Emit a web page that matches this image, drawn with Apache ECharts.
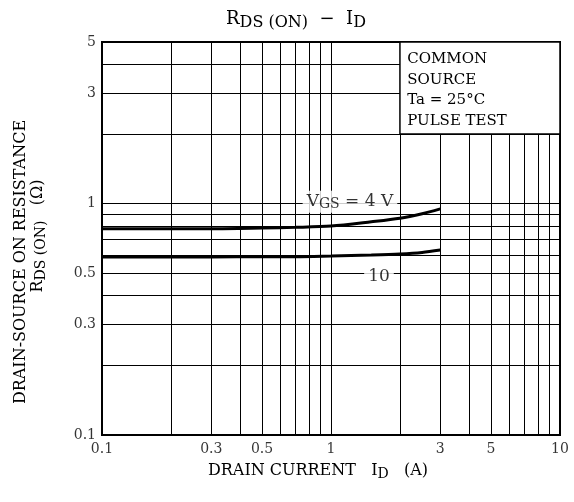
<!DOCTYPE html>
<html>
<head>
<meta charset="utf-8">
<script src="https://cdn.jsdelivr.net/npm/echarts@6/dist/echarts.min.js"></script>
<style>
html,body{margin:0;padding:0;background:#fff;}
#chart{width:574px;height:502px;}
</style>
</head>
<body>
<div id="chart"></div>
<script>
// ---- data ----
const xRange = [0.1, 10];
const yRange = [0.1, 5];
const xTickLabels = [0.1, 0.3, 0.5, 1, 3, 5, 10];
const yTickLabels = [0.1, 0.3, 0.5, 1, 3, 5];
const xGridValues = [0.2, 0.3, 0.4, 0.5, 0.6, 0.7, 0.8, 0.9, 1, 2, 3, 4, 5, 6, 7, 8, 9];
const yGridValues = [0.2, 0.3, 0.4, 0.5, 0.6, 0.7, 0.8, 0.9, 1, 2, 3, 4];
const currentA = [0.1, 0.2, 0.3, 0.5, 0.7, 1, 1.5, 2, 2.5, 3];
const rdsVgs4 = [0.78, 0.78, 0.78, 0.785, 0.79, 0.80, 0.835, 0.865, 0.905, 0.95];
const rdsVgs10 = [0.588, 0.588, 0.588, 0.59, 0.59, 0.594, 0.60, 0.606, 0.615, 0.63];
const labelVgs4Pos = [1.21, 1.02];
const labelVgs10Pos = [1.62, 0.483];
const boxCorners = [[2, 2], [10, 5]];
const boxLines = ['COMMON', 'SOURCE', 'Ta = 25°C', 'PULSE TEST'];

const FONT = '"DejaVu Serif", "Liberation Serif", serif';
const chart = echarts.init(document.getElementById('chart'), null, {renderer: 'canvas'});

const zip = (xs, ys) => xs.map((x, i) => [x, ys[i]]);

const option = {
  backgroundColor: '#fff',
  animation: false,
  textStyle: {fontFamily: FONT, color: '#000'},
  grid: {left: 102, right: 14, top: 42, bottom: 67, show: true, borderColor: '#000', borderWidth: 2, backgroundColor: 'transparent'},
  xAxis: {
    type: 'log', logBase: 10, min: xRange[0], max: xRange[1],
    axisLine: {show: false}, axisTick: {show: false}, axisLabel: {show: false}, splitLine: {show: false}
  },
  yAxis: {
    type: 'log', logBase: 10, min: yRange[0], max: yRange[1],
    axisLine: {show: false}, axisTick: {show: false}, axisLabel: {show: false}, splitLine: {show: false}
  },
  graphic: [
    {
      type: 'text', x: 296, y: 19, z: 10,
      style: {
        text: '{a|R}{s|DS (ON)}{a|  −  I}{s|D}',
        align: 'center', verticalAlign: 'middle',
        rich: {
          a: {fontFamily: FONT, fontSize: 18, color: '#000', lineHeight: 22},
          s: {fontFamily: FONT, fontSize: 16, color: '#000', lineHeight: 22, padding: [7, 0, 0, 0]}
        }
      }
    },
    {
      type: 'text', x: 21, y: 262, rotation: Math.PI / 2, z: 10,
      style: {text: 'DRAIN-SOURCE ON RESISTANCE', align: 'center', verticalAlign: 'middle', font: '16px ' + FONT, fill: '#000'}
    },
    {
      type: 'text', x: 38, y: 236, rotation: Math.PI / 2, z: 10,
      style: {
        text: '{a|R}{s|DS (ON)}{a|   (Ω)}',
        align: 'center', verticalAlign: 'middle',
        rich: {
          a: {fontFamily: FONT, fontSize: 16, color: '#000', lineHeight: 20},
          s: {fontFamily: FONT, fontSize: 14, color: '#000', lineHeight: 20, padding: [6, 0, 0, 0]}
        }
      }
    },
    {
      type: 'text', x: 318, y: 471, z: 10,
      style: {
        text: '{a|DRAIN CURRENT   I}{s|D}{a|   (A)}',
        align: 'center', verticalAlign: 'middle',
        rich: {
          a: {fontFamily: FONT, fontSize: 16, color: '#000', lineHeight: 20},
          s: {fontFamily: FONT, fontSize: 14, color: '#000', lineHeight: 20, padding: [6, 0, 0, 0]}
        }
      }
    }
  ],
  series: [
    {
      name: 'grid', type: 'line', data: [], z: 2, silent: true,
      markLine: {
        silent: true, z: 1, symbol: ['none', 'none'], animation: false,
        label: {show: false},
        lineStyle: {color: '#000', width: 1, type: 'solid'},
        data: xGridValues.map(v => ({xAxis: v})).concat(yGridValues.map(v => ({yAxis: v})))
      }
    },
    {
      name: 'box', type: 'line', data: [], z: 3, silent: true,
      markArea: {
        silent: true, z: 3,
        itemStyle: {color: '#fff', opacity: 1, borderColor: '#000', borderWidth: 1.5},
        label: {
          show: true, position: 'insideTopLeft', distance: 8,
          formatter: boxLines.join('\n'),
          fontFamily: FONT, fontSize: 15, lineHeight: 20.5, color: '#000'
        },
        data: [[{xAxis: boxCorners[0][0], yAxis: boxCorners[0][1]}, {xAxis: boxCorners[1][0], yAxis: boxCorners[1][1]}]]
      }
    },
    {
      name: 'VGS = 4 V', type: 'line', data: zip(currentA, rdsVgs4), z: 4,
      symbol: 'none', smooth: 0.3, lineStyle: {color: '#000', width: 3}
    },
    {
      name: 'VGS = 10 V', type: 'line', data: zip(currentA, rdsVgs10), z: 4,
      symbol: 'none', smooth: 0.3, lineStyle: {color: '#000', width: 3}
    },
    {
      name: 'curve labels', type: 'scatter', z: 6, symbolSize: 0, clip: false, silent: true,
      data: [
        {value: labelVgs4Pos, label: {formatter: '{a|V}{s|GS}{a| = 4 V}'}},
        {value: labelVgs10Pos, label: {formatter: '{a|10}'}}
      ],
      label: {
        show: true, position: 'inside', backgroundColor: '#fff', padding: [1, 4, 1, 4],
        rich: {
          a: {fontFamily: FONT, fontSize: 17, color: '#000', lineHeight: 20},
          s: {fontFamily: FONT, fontSize: 14, color: '#000', lineHeight: 20, padding: [6, 0, 0, 0]}
        }
      }
    },
    {
      name: 'x ticks', type: 'scatter', z: 6, symbolSize: 0, clip: false, silent: true,
      data: xTickLabels.map(v => [v, yRange[0]]),
      label: {show: true, position: 'bottom', distance: 7, fontFamily: FONT, fontSize: 14, color: '#000', formatter: p => String(p.value[0])}
    },
    {
      name: 'y ticks', type: 'scatter', z: 6, symbolSize: 0, clip: false, silent: true,
      data: yTickLabels.map(v => [xRange[0], v]),
      label: {show: true, position: 'left', distance: 6, fontFamily: FONT, fontSize: 14, color: '#000', formatter: p => String(p.value[1])}
    }
  ]
};
chart.setOption(option);
</script>
</body>
</html>
